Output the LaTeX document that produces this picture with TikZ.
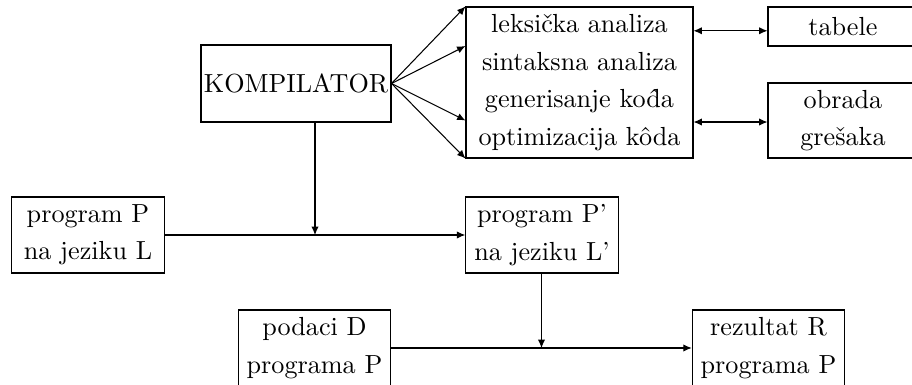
\documentclass[tikz,border=0pt]{standalone}
\usetikzlibrary{arrows.meta,calc}
\begin{document}
\begin{tikzpicture}[x=0.3824pt,y=-0.3824pt,
  box/.style={draw,align=center,inner sep=0pt,font=\fontsize{10}{14.34}\selectfont},
  pair/.style={box,minimum width=58.3pt,minimum height=29.06pt},
  >={Latex[length=3.2pt,width=2.8pt]}]
\clip (0,0) rectangle (912,385);

% compiler and its phases
\node[box,minimum width=72.66pt,minimum height=29.44pt] (komp) at (296,83.5) {KOMPILATOR};
\node[box,minimum width=86.8pt,minimum height=57.74pt] (lex) at (579.5,82.5)
  {leksička analiza\\sintaksna analiza\\generisanje ko\^{d}a\\optimizacija kôda};
\node[box,minimum width=57.36pt,minimum height=14.91pt] (tab) at (843,26.5) {tabele};
\node[box,minimum width=57.36pt,minimum height=28.68pt] (obr) at (843,120.5) {obrada\\grešaka};

% translation and execution
\node[pair] (src) at (88,235) {program P\\na jeziku L};
\node[pair] (dst) at (542,235) {program P'\\na jeziku L'};
\node[pair] (dat) at (314.5,348) {podaci D\\programa P};
\node[pair] (res) at (768.5,348) {rezultat R\\programa P};

% fan of arrows into the phases
\draw[->] (komp.east) -- (lex.north west);
\draw[->] (komp.east) -- ($(lex.north west)!0.26!(lex.south west)$);
\draw[->] (komp.east) -- ($(lex.north west)!0.75!(lex.south west)$);
\draw[->] (komp.east) -- (lex.south west);

% links to tables and error handling
\coordinate (t1) at ($(lex.north east)!0.16!(lex.south east)$);
\coordinate (t2) at ($(lex.north east)!0.76!(lex.south east)$);
\draw[<->] (t1) -- (t1 -| tab.west);
\draw[<->] (t2) -- (t2 -| obr.west);

% program flow
\coordinate (m1) at ($(src.east)!0.5!(dst.west)$);
\draw[->] (src.east) -- (dst.west);
\draw[->] (m1 |- komp.south) -- (m1);
\coordinate (m2) at ($(dat.east)!0.5!(res.west)$);
\draw[->] (dat.east) -- (res.west);
\draw[->] (dst.south -| m2) -- (m2);
\end{tikzpicture}
\end{document}
